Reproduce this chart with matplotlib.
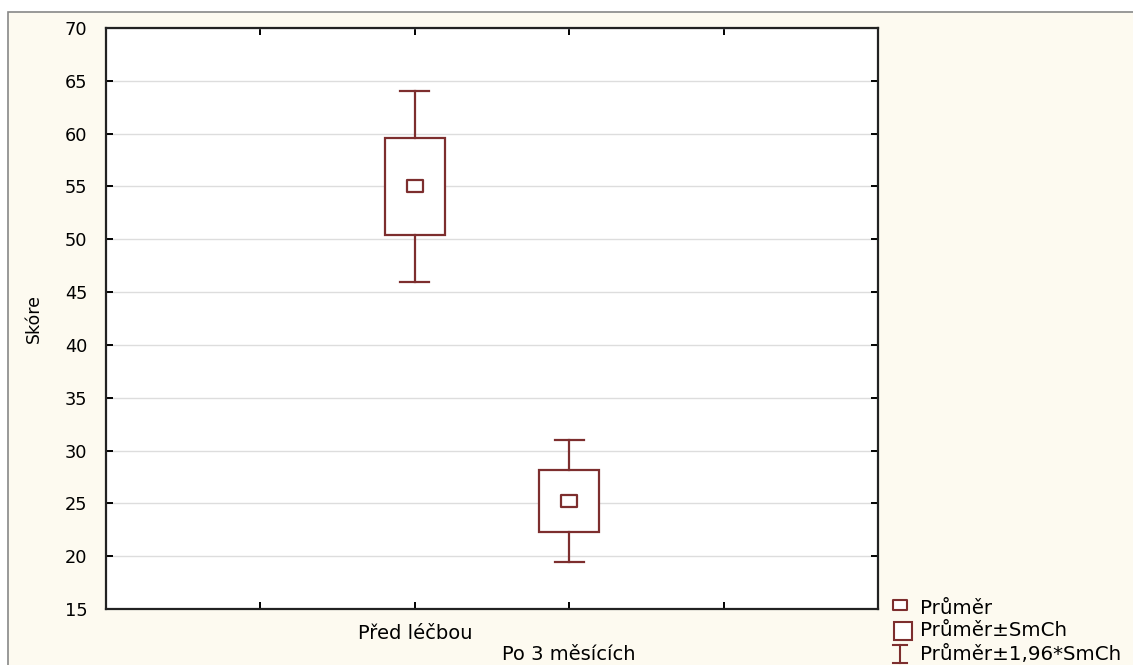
import matplotlib.pyplot as plt
import matplotlib.patches as mpatches
from matplotlib.path import Path
import matplotlib.transforms as mtransforms

plt.rcParams['font.family'] = ['DejaVu Sans']

groups = ['Před léčbou', 'Po 3 měsících']
means = [55.0, 25.2]
std_errs = [4.62, 2.95]
legend_labels = ['Průměr', 'Průměr±SmCh', 'Průměr±1,96*SmCh']

W, H = 1133, 665
dark_red = '#7d2e2e'
cream = '#fdfaf0'

fig = plt.figure(figsize=(W / 100, H / 100), dpi=100, facecolor='white')

# cream panel with a grey frame line at top/left
panel = mpatches.Rectangle((8 / W, -0.1), 1.2, (H - 12) / H + 0.1,
                           transform=fig.transFigure, facecolor=cream,
                           edgecolor='#888888', linewidth=1.2, zorder=0)
fig.add_artist(panel)

ax = fig.add_axes([106 / W, (H - 609) / H, (878 - 106) / W, (609 - 28) / H])
ax.set_facecolor('white')
ax.set_xlim(0, 5)
ax.set_ylim(15, 70)
ax.set_yticks(range(15, 71, 5))
ax.set_xticks([1, 2, 3, 4])
ax.set_xticklabels(['', groups[0], groups[1], ''])
ax.yaxis.grid(True, color='#dddddd', linewidth=1)
ax.set_axisbelow(True)
ax.tick_params(direction='in', length=5, width=1.4, top=True, right=True,
               labelsize=12.8)
ax.tick_params(axis='y', pad=13.5)
ax.tick_params(axis='x', pad=10.5, labelsize=14)
for sp in ax.spines.values():
    sp.set_linewidth(1.6)
    sp.set_color('#222222')
ax.set_ylabel('Skóre', fontsize=12.5, labelpad=16)

# stagger the second category label downwards
lbl = ax.get_xticklabels()[2]
lbl.set_transform(lbl.get_transform() +
                  mtransforms.ScaledTranslation(0, -0.21, fig.dpi_scale_trans))

# mean marker: small flat rectangle
rect_marker = Path([(-0.75, -0.5), (0.75, -0.5), (0.75, 0.5), (-0.75, 0.5), (-0.75, -0.5)],
                   [Path.MOVETO, Path.LINETO, Path.LINETO, Path.LINETO, Path.CLOSEPOLY])

box_w = 0.39
cap_w = 0.19
for i, (m, se) in enumerate(zip(means, std_errs)):
    x = i + 2
    lo, hi = m - se, m + se
    wlo, whi = m - 1.96 * se, m + 1.96 * se
    ax.add_patch(mpatches.Rectangle((x - box_w / 2, lo), box_w, hi - lo,
                                    facecolor='white', edgecolor=dark_red,
                                    linewidth=1.6, zorder=3))
    ax.plot([x, x], [hi, whi], color=dark_red, lw=1.6, zorder=3)
    ax.plot([x, x], [lo, wlo], color=dark_red, lw=1.6, zorder=3)
    ax.plot([x - cap_w / 2, x + cap_w / 2], [whi, whi], color=dark_red, lw=1.6, zorder=3)
    ax.plot([x - cap_w / 2, x + cap_w / 2], [wlo, wlo], color=dark_red, lw=1.6, zorder=3)
    ax.plot([x], [m], marker=rect_marker, markersize=12, markerfacecolor='white',
            markeredgecolor=dark_red, markeredgewidth=1.6, zorder=4)

# legend drawn in pixel coordinates
lg = fig.add_axes([885 / W, 0, (W - 885) / W, 75 / H])
lg.set_xlim(885, W)
lg.set_ylim(H, H - 75)
lg.axis('off')
lg.plot([900], [605], marker=rect_marker, markersize=10, markerfacecolor='white',
        markeredgecolor=dark_red, markeredgewidth=1.5)
lg.add_patch(mpatches.Rectangle((894, 622), 18, 18, facecolor='white',
                                edgecolor=dark_red, linewidth=1.5))
lg.plot([900, 900], [645, 663], color=dark_red, lw=1.5)
lg.plot([893, 907], [645, 645], color=dark_red, lw=1.5)
lg.plot([893, 907], [663, 663], color=dark_red, lw=1.5)
for yy, txt in zip([609, 631, 654], legend_labels):
    lg.text(920, yy, txt, fontsize=14.3, va='center', ha='left')

fig.savefig('out.png', dpi=100, facecolor=fig.get_facecolor())
